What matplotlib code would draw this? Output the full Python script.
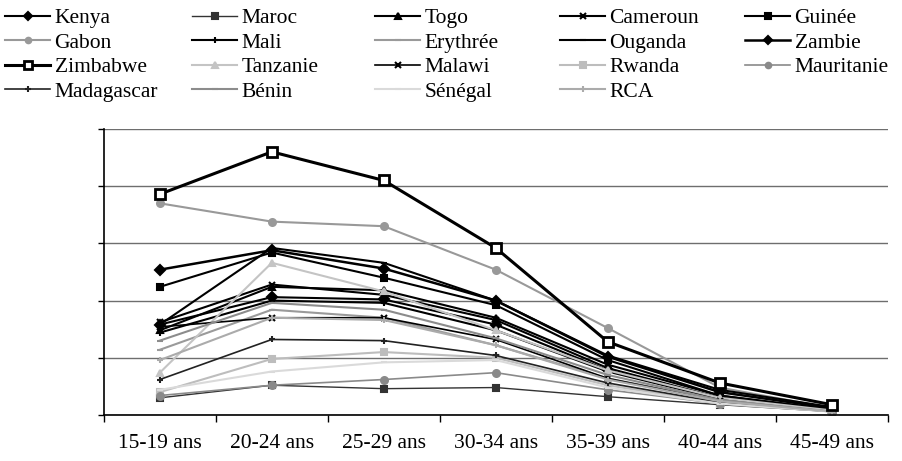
import numpy as np
import matplotlib.pyplot as plt
from matplotlib.ticker import FixedLocator, NullFormatter

plt.rcParams['font.family'] = ['Liberation Serif', 'DejaVu Serif']

# Groupes d'âge
ages = ['15-19 ans', '20-24 ans', '25-29 ans', '30-34 ans',
        '35-39 ans', '40-44 ans', '45-49 ans']

# Taux de fécondité par âge (pour 1000 femmes)
kenya = [79, 103, 101, 79, 39, 15, 4]
maroc = [15, 26, 23, 24, 16, 9, 3]
togo = [74, 112, 109, 85, 44, 17, 4]
cameroun = [81, 114, 105, 83, 41, 15, 4]
guinee = [112, 142, 120, 96, 48, 17, 5]
gabon = [185, 169, 165, 127, 76, 24, 6]
mali = [72, 100, 98, 74, 38, 14, 4]
erythree = [57, 92, 85, 61, 32, 13, 3]
ouganda = [79, 146, 133, 100, 52, 22, 7]
zambie = [127, 144, 128, 100, 51, 20, 6]
zimbabwe = [193, 230, 205, 146, 64, 28, 9]
tanzanie = [37, 133, 108, 74, 39, 15, 4]
malawi = [77, 85, 85, 66, 32, 12, 3]
rwanda = [20, 49, 55, 50, 26, 10, 3]
mauritanie = [17, 26, 31, 37, 22, 10, 3]
madagascar = [31, 66, 65, 52, 28, 11, 3]
benin = [65, 98, 92, 67, 35, 13, 3]
senegal = [22, 38, 46, 48, 24, 10, 3]
rca = [48, 85, 83, 61, 31, 12, 3]

# nom, valeurs, couleur, marqueur, épaisseur
series = [
    ('Kenya', kenya, 'black', 'D', 1.5),
    ('Maroc', maroc, '#333333', 's', 1.0),
    ('Togo', togo, 'black', '^', 1.5),
    ('Cameroun', cameroun, 'black', 'x', 1.5),
    ('Guinée', guinee, 'black', 's', 1.5),
    ('Gabon', gabon, '#999999', 'o', 1.5),
    ('Mali', mali, 'black', '+', 1.5),
    ('Erythrée', erythree, '#9a9a9a', '_', 1.5),
    ('Ouganda', ouganda, 'black', '_', 1.5),
    ('Zambie', zambie, 'black', 'D', 1.8),
    ('Zimbabwe', zimbabwe, 'black', 's', 2.2),
    ('Tanzanie', tanzanie, '#c4c4c4', '^', 1.5),
    ('Malawi', malawi, 'black', 'x', 1.2),
    ('Rwanda', rwanda, '#bdbdbd', 's', 1.5),
    ('Mauritanie', mauritanie, '#8a8a8a', 'o', 1.2),
    ('Madagascar', madagascar, '#222222', '+', 1.2),
    ('Bénin', benin, '#8c8c8c', '_', 1.5),
    ('Sénégal', senegal, '#dadada', '_', 1.5),
    ('RCA', rca, '#ababab', '+', 1.5),
]

fig = plt.figure(figsize=(9.03, 4.61), dpi=100)
ax = fig.add_axes([0.115, 0.0998, 0.868, 0.6205])

x = np.arange(len(ages))
handles = []
for name, vals, col, mk, lw in series:
    if name == 'Zimbabwe':
        h, = ax.plot(x, vals, color=col, lw=lw, marker=mk, ms=7,
                     mfc='white', mec='black', mew=2, label=name, zorder=5)
    else:
        h, = ax.plot(x, vals, color=col, lw=lw, marker=mk, ms=5,
                     mec=col, mew=1.5, label=name)
    handles.append(h)

ax.set_xlim(-0.5, len(ages) - 0.5)
ax.set_ylim(0, 250)

# graduations : traits entre les catégories, libellés au centre
ax.xaxis.set_major_locator(FixedLocator(np.arange(-0.5, len(ages), 1.0)))
ax.xaxis.set_major_formatter(NullFormatter())
ax.xaxis.set_minor_locator(FixedLocator(x))
ax.set_xticklabels(ages, minor=True, fontsize=15.5)
ax.tick_params(axis='x', which='major', length=5, direction='out', width=1)
ax.tick_params(axis='x', which='minor', length=0, pad=14)

ax.set_yticks(np.arange(0, 251, 50))
ax.set_yticklabels([])
ax.tick_params(axis='y', length=4, direction='out', width=1)
ax.yaxis.grid(True, color='#6e6e6e', lw=1.0)
ax.set_axisbelow(True)

for s in ['top', 'right']:
    ax.spines[s].set_visible(False)
ax.spines['left'].set_linewidth(1.2)
ax.spines['bottom'].set_linewidth(1.2)

# légende sur 5 colonnes
col_x = [5, 192, 375, 560, 745]
for c in range(5):
    hs = handles[c::5]
    fig.legend(hs, [h.get_label() for h in hs], loc='upper left',
               bbox_to_anchor=(col_x[c] / 903, 1 - 8 / 461),
               frameon=False, fontsize=15.5, handlelength=2.1,
               handletextpad=0.2, labelspacing=0.21, borderpad=0,
               borderaxespad=0, markerscale=0.8)

fig.savefig('out.png', dpi=100)
